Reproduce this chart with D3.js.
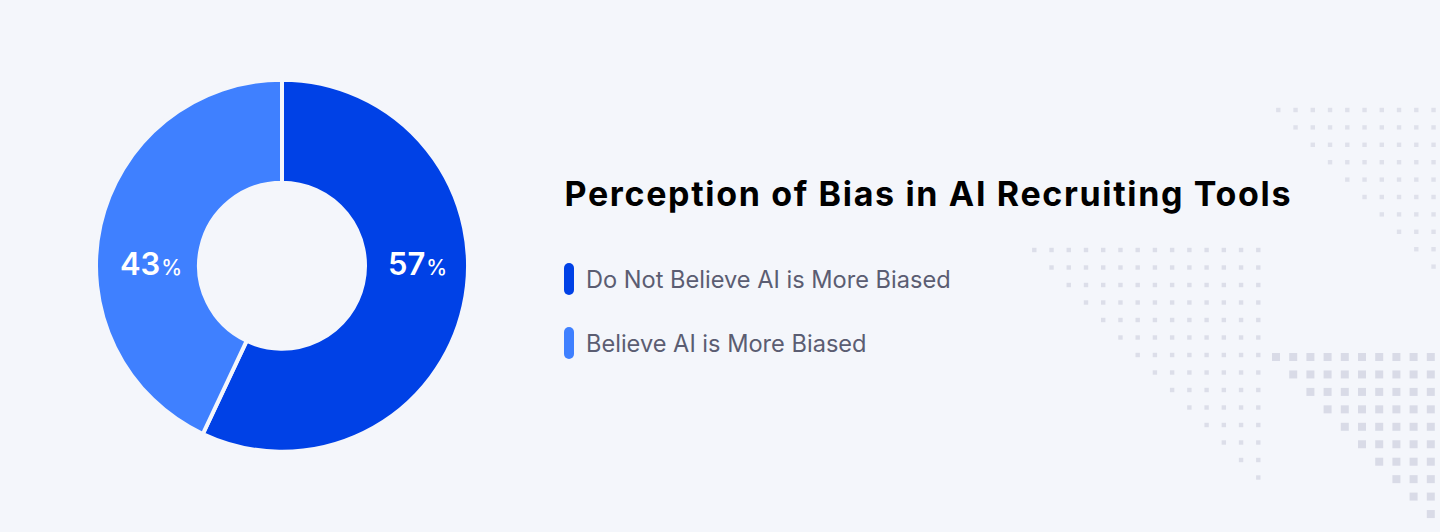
<!DOCTYPE html>
<html><head><meta charset="utf-8">
<script src="https://cdn.jsdelivr.net/npm/d3@7"></script>
<style>html,body{margin:0;padding:0;background:#f4f6fb}svg{display:block}</style>
</head><body><svg id="c" width="1440" height="532"></svg>
<script>
const categories = ["Do Not Believe AI is More Biased", "Believe AI is More Biased"];
const values = [57, 43];
const colors = ["#0041e6", "#3f80ff"];
const title = "Perception of Bias in AI Recruiting Tools";

const svg = d3.select("#c");
const bg = "#f4f6fb";
svg.append("rect").attr("width",1440).attr("height",532).attr("fill",bg);

// decorative dot map
function grid(x0,y0,dx,dy,n,size,fill){
  const g = svg.append("g").attr("fill",fill);
  for(let r=0;r<n;r++) for(let c=r;c<n;c++){
    g.append("rect").attr("x",x0+c*dx-size/2).attr("y",y0+r*dy-size/2)
     .attr("width",size).attr("height",size);
  }
}
grid(1034.3,250,17.23,17.5,14,4.4,"#dcdee9");
grid(1278.3,110,17.25,17.4,10,4.4,"#dfe1eb");
grid(1276,357,17.2,17.45,10,8,"#d9dbe7");

const cx=282, cy=265.7;
const pie = d3.pie().sort(null).value(d=>d)(values);
const arc = d3.arc().innerRadius(83).outerRadius(186);
const gp = svg.append("g").attr("transform",`translate(${cx},${cy})`);
gp.selectAll("path").data(pie).join("path")
  .attr("d",arc).attr("fill",(d,i)=>colors[i])
  .attr("stroke",bg).attr("stroke-width",4);

const t = gp.selectAll("text").data(pie).join("text")
  .attr("text-anchor","middle")
  .attr("font-family","Inter").attr("fill","#fff")
  .attr("x",(d,i)=>i===0?135.5:-131).attr("y",9);
t.append("tspan").attr("font-size",31).attr("font-weight",600).text(d=>d.value);
t.append("tspan").attr("font-size",21).attr("font-weight",500).attr("dx",1).text("%");

svg.append("text").attr("x",564.5).attr("y",206)
  .attr("font-family","Inter").attr("font-weight",700).attr("font-size",34)
  .attr("fill","#000").attr("textLength",726).attr("lengthAdjust","spacing").text(title);

const lg = svg.append("g").selectAll("g").data(categories).join("g")
  .attr("transform",(d,i)=>`translate(564,${263+i*64})`);
lg.append("rect").attr("width",10).attr("height",32).attr("rx",5).attr("fill",(d,i)=>colors[i]);
lg.append("text").attr("x",22).attr("y",25)
  .attr("font-family","Inter").attr("font-size",23.6).attr("fill","#5b5d72").text(d=>d);
</script></body></html>
